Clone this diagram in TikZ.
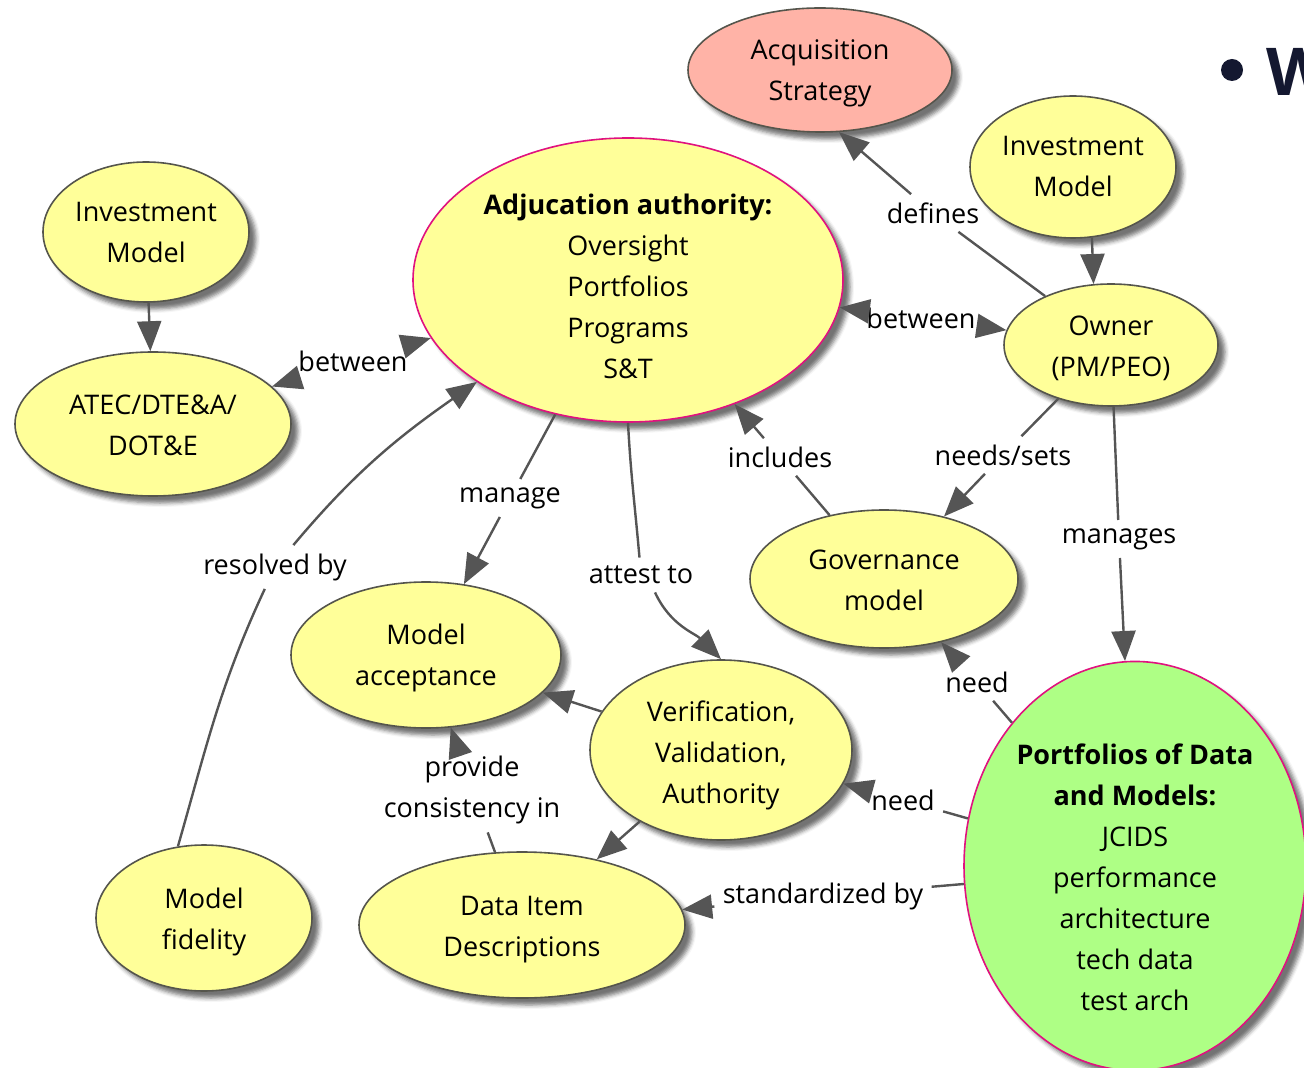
\documentclass[tikz,border=0pt]{standalone}
\usepackage{fontspec}
\setmainfont{Open Sans}
\usetikzlibrary{shapes.geometric,arrows.meta,shadows.blur}
\definecolor{yel}{HTML}{FFFF99}
\definecolor{grn}{HTML}{AEFF85}
\definecolor{salm}{HTML}{FFB3A7}
\definecolor{mag}{HTML}{E0127F}
\definecolor{outl}{HTML}{55554C}
\definecolor{lgray}{HTML}{555555}
\definecolor{navy}{HTML}{141830}
\newcommand\dnshift[1]{\rule{0pt}{\dimexpr 10.5pt+#1\relax}}
\begin{document}
\begin{tikzpicture}[x=0.5pt,y=0.5pt,
  concept/.style={ellipse, draw=outl, line width=0.8pt, fill=yel, inner sep=0pt, align=center,
    font=\fontsize{13.5}{20.5}\selectfont,
    blur shadow={shadow xshift=3.5pt,shadow yshift=-3.5pt,shadow blur radius=2pt,shadow opacity=55}},
  lbl/.style={inner sep=4pt, align=center, font=\fontsize{13.5}{20.5}\selectfont},
  conn/.style={draw=lgray, line width=1.2pt},
  arr/.style={conn, -{Triangle[length=15pt,width=12pt]}}]
\useasboundingbox (0,0) rectangle (1304,-1068);
% concepts
\node[concept, fill=salm, minimum width=132pt, minimum height=62pt] (acq) at (820,-70) {\dnshift{2.5pt}Acquisition\\Strategy};
\node[concept, minimum width=103pt, minimum height=71pt] (invR) at (1073,-167) {Investment\\Model};
\node[concept, minimum width=103pt, minimum height=70pt] (invL) at (146,-232) {Investment\\Model};
\node[concept, minimum width=138pt, minimum height=72pt] (atec) at (153,-424) {\dnshift{1pt}ATEC/DTE\&A/\\DOT\&E};
\node[concept, draw=mag, minimum width=215pt, minimum height=142pt] (adj) at (628,-280) {\dnshift{6pt}\textbf{Adjucation authority:}\\Oversight\\Portfolios\\Programs\\S\&T};
\node[concept, minimum width=107pt, minimum height=61pt] (owner) at (1111,-345) {\dnshift{3pt}Owner\\(PM/PEO)};
\node[concept, minimum width=134pt, minimum height=69pt] (gov) at (884,-579) {\dnshift{1pt}Governance\\model};
\node[concept, minimum width=135pt, minimum height=73pt] (macc) at (426,-655) {\dnshift{3pt}Model\\acceptance};
\node[concept, minimum width=131pt, minimum height=90pt] (vva) at (721,-750) {\dnshift{5pt}Verification,\\Validation,\\Authority};
\node[concept, draw=mag, fill=grn, minimum width=171pt, minimum height=196pt] (port) at (1135,-866) {\dnshift{11pt}\textbf{Portfolios of Data}\\\textbf{and Models:}\\JCIDS\\performance\\architecture\\tech data\\test arch};
\node[concept, minimum width=163pt, minimum height=73pt] (did) at (522,-925) {\dnshift{4pt}Data Item\\Descriptions};
\node[concept, minimum width=108pt, minimum height=73pt] (fid) at (204,-918) {\dnshift{4pt}Model\\fidelity};
% labels
\node[lbl] (lb1) at (353,-361) {between};
\node[lbl] (lb2) at (921,-318) {between};
\node[lbl] (lres) at (275,-567) {resolved by};
\node[lbl] (lman) at (510,-498) {manage};
\node[lbl] (latt) at (641,-575) {attest to};
\node[lbl] (linc) at (780,-457) {includes};
\node[lbl] (lns) at (1003,-455) {needs/sets};
\node[lbl] (lmng) at (1119,-539) {manages};
\node[lbl] (ldef) at (933,-213) {defines};
\node[lbl] (lneedA) at (977,-682) {need};
\node[lbl] (lneedB) at (903,-800) {need};
\node[lbl] (lstd) at (823,-896) {standardized by};
\node[lbl] (lprov) at (472,-790) {provide\\consistency in};
% connectors
\draw[arr] (invL) -- (atec);
\draw[arr] (lb1) -- (atec);
\draw[arr] (lb1) -- (adj);
\draw[arr] (lb2) -- (adj);
\draw[arr] (lb2) -- (owner);
\draw[conn] (fid.110) to[out=74,in=-115] (lres);
\draw[arr] (lres) to[out=50,in=-145] (adj.214);
\draw[conn] (adj) -- (lman);
\draw[arr] (lman) -- (macc);
\draw[conn] (adj.south) to[out=-87,in=95] (latt);
\draw[arr] ([xshift=7pt]latt.south) to[out=-65,in=135] (vva.north);
\draw[conn] (gov) -- (linc);
\draw[arr] (linc) -- (adj);
\draw[conn] (owner) -- (lns);
\draw[arr] (lns) -- (gov);
\draw[conn] (owner) -- (lmng);
\draw[arr] (lmng) -- (port);
\draw[conn] (owner) -- (ldef);
\draw[arr] (ldef) -- (acq.-73);
\draw[arr] (invR.-75) -- (owner.106);
\draw[conn] (port) -- (lneedA);
\draw[arr] (lneedA) -- (gov);
\draw[conn] (port) -- (lneedB);
\draw[arr] (lneedB) -- (vva);
\draw[conn] (port.186) -- (lstd);
\draw[arr] (lstd) -- (did);
\draw[arr] (vva) -- (macc);
\draw[conn] (did) -- (lprov);
\draw[arr] (lprov) -- (macc);
\draw[arr] (vva) -- (did);
% heading fragment
\fill[navy] (1232,-70) circle (5.5pt);
\node[anchor=base west, inner sep=0pt, text=navy, font=\fontsize{33}{33}\selectfont\bfseries] (W) at (1266,-96) {W};
\end{tikzpicture}
\end{document}
